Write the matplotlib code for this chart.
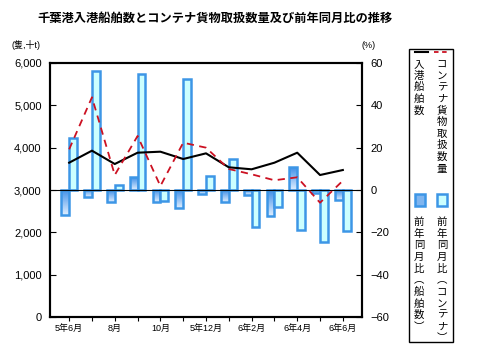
import numpy as np
import matplotlib
matplotlib.use("Agg")
import matplotlib.pyplot as plt
from matplotlib.patches import Rectangle
from matplotlib.lines import Line2D

plt.rcParams['font.family'] = ['Liberation Sans', 'Noto Sans CJK JP', 'DejaVu Sans']

months = ["5年6月", "", "8月", "", "10月", "", "5年12月", "", "6年2月", "", "6年4月", "", "6年6月"]
ships = [3645, 3929, 3614, 3881, 3905, 3732, 3866, 3536, 3489, 3645, 3881, 3354, 3472]
cargo = [3961, 5190, 3354, 4276, 3094, 4117, 4000, 3496, 3371, 3230, 3300, 2700, 3220]
ships_yoy = [-12.0, -3.5, -5.5, 6.0, -5.8, -8.4, -1.9, -5.5, -2.4, -12.1, 10.7, -1.6, -4.7]
cargo_yoy = [24.4, 56.2, 2.5, 54.8, -5.2, 52.4, 6.8, 14.6, -17.3, -7.9, -18.9, -24.4, -19.4]

edge = "#3d96e6"
cyan = "#ccffff"
grad = np.linspace(0, 1, 64).reshape(-1, 1)
cmap = matplotlib.colors.LinearSegmentedColormap.from_list("g", ["#3f8fe8", "#dfeeff"])

fig = plt.figure(figsize=(4.78, 3.57), dpi=100)
ax = fig.add_axes([50 / 478, 1 - 317 / 357, 312 / 478, 254 / 357])
ax2 = ax.twinx()
x = np.arange(len(months))
w = 0.34

# bars (percent axis, shown on the right)
bars = ax.bar(x - w / 2, ships_yoy, w, facecolor="none", edgecolor=edge, linewidth=1.8, zorder=3)
for b in bars:
    x0, y0 = b.get_x(), b.get_y()
    bw, bh = b.get_width(), b.get_height()
    top, bot = max(y0, y0 + bh), min(y0, y0 + bh)
    im = ax.imshow(grad, cmap=cmap, extent=(x0, x0 + bw, bot, top), aspect="auto", zorder=2)
    im.set_clip_path(b)
ax.bar(x + w / 2, cargo_yoy, w, facecolor=cyan, edgecolor=edge, linewidth=1.8, zorder=3)
ax.axhline(0, color="black", linewidth=0.8, zorder=4)

ax.set_xlim(-0.84, 12.84)
ax.set_ylim(-60, 60)
ax.set_yticks(range(-60, 61, 20))
ax.yaxis.tick_right()
ax.tick_params(axis="y", direction="in", length=4, labelsize=8, pad=6)
ax.set_xticks(x)
ax.set_xticklabels(months, fontsize=6.5)
ax.tick_params(axis="x", direction="out", length=3, pad=2)
for s in ax.spines.values():
    s.set_linewidth(1.5)

# lines (count axis, shown on the left)
ax2.plot(x, ships, color="black", linewidth=1.5, zorder=5)
ax2.plot(x, cargo, color="#cc1122", linewidth=1.3, linestyle=(0, (4, 3)), zorder=5)
ax2.set_ylim(0, 6000)
ax2.set_yticks(range(0, 6001, 1000))
ax2.set_yticklabels([f"{v:,}" for v in range(0, 6001, 1000)])
ax2.yaxis.tick_left()
ax2.tick_params(axis="y", direction="in", length=4, labelsize=8, pad=6)
for s in ax2.spines.values():
    s.set_linewidth(1.5)

fig.text(215 / 478, 1 - 19 / 357, "千葉港入港船舶数とコンテナ貨物取扱数量及び前年同月比の推移",
         ha="center", va="center", fontsize=8.8, fontweight="bold")
fig.text(12 / 478, 1 - 45 / 357, "(隻,十t)", ha="left", va="center", fontsize=6.5)
fig.text(362 / 478, 1 - 45 / 357, "(%)", ha="left", va="center", fontsize=6.5)

# legend box
fig.add_artist(Rectangle((409 / 478, 1 - 342 / 357), 44 / 478, 293 / 357,
                         transform=fig.transFigure, fill=False, edgecolor="black", linewidth=1))
fig.add_artist(Line2D([415 / 478, 428 / 478], [1 - 52 / 357] * 2, transform=fig.transFigure,
                      color="black", linewidth=1.5))
fig.add_artist(Line2D([434 / 478, 448 / 478], [1 - 52 / 357] * 2, transform=fig.transFigure,
                      color="#cc1122", linewidth=1.3, linestyle=(0, (2.5, 2))))
legend_kw = dict(ha="center", va="top", fontsize=7.5, linespacing=1.2,
                 family=["Noto Sans CJK JP", "DejaVu Sans"])
fig.text(419 / 478, 1 - 59 / 357, "\n".join("入港船舶数"), **legend_kw)
fig.text(442 / 478, 1 - 59 / 357, "\n".join("コンテナ貨物取扱数量"), **legend_kw)
fig.add_artist(Rectangle((415 / 478, 1 - 206 / 357), 10 / 478, 12 / 357, transform=fig.transFigure,
                         facecolor="#7fb5ef", edgecolor=edge, linewidth=1.8))
fig.add_artist(Rectangle((437 / 478, 1 - 206 / 357), 10 / 478, 12 / 357, transform=fig.transFigure,
                         facecolor=cyan, edgecolor=edge, linewidth=1.8))
fig.text(419 / 478, 1 - 217 / 357, "\n".join("前年同月比︵船舶数︶"), **legend_kw)
fig.text(442 / 478, 1 - 217 / 357, "\n".join("前年同月比︵コンテナ︶"), **legend_kw)

fig.savefig("out.png", dpi=100)
